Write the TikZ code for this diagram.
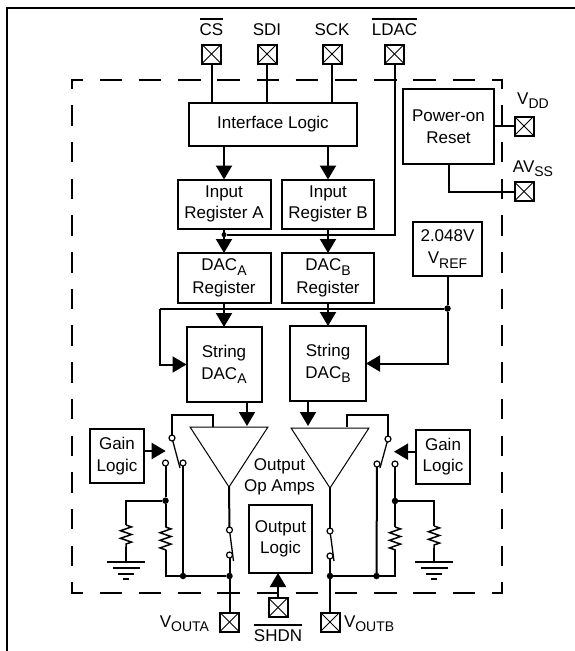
\documentclass[tikz,border=0pt]{standalone}
\usepackage{fontspec}
\usepackage{tikz}
\setmainfont{Liberation Sans}
\usetikzlibrary{shapes.geometric, arrows.meta, positioning, calc, decorations.pathmorphing}
\newcommand{\lowtext}[1]{\raisebox{-4.5pt}{\fontsize{14}{14}\selectfont #1}}
\newcommand{\pinbar}[1]{\vbox{\hrule height 1.4pt\kern 3.5pt\hbox{#1}}}
\newcommand{\groundsym}[1]{
    \draw[wire] ($(#1)+(-19,0)$) -- ($(#1)+(19,0)$);
    \draw[wire] ($(#1)+(-13.5,6)$) -- ($(#1)+(13.5,6)$);
    \draw[wire] ($(#1)+(-8,12)$) -- ($(#1)+(8,12)$);
    \draw[wire] ($(#1)+(-3,17)$) -- ($(#1)+(3,17)$);
}

\begin{document}
\begin{tikzpicture}[
    x=1pt, y=-1pt,
    every node/.style={font=\fontsize{17}{21.5}\selectfont, inner sep=0pt, outer sep=0pt},
    wire/.style={line width=2pt},
    sig/.style={line width=2pt, -{Triangle[length=14pt,width=16pt]}},
    outlineh/.style={line width=2pt, dash pattern=on 22.5pt off 16.7pt, dash phase=10.5pt},
    outlinev/.style={line width=2pt, dash pattern=on 20.5pt off 16.2pt, dash phase=10.5pt},
    block/.style 2 args={rectangle, draw, line width=2pt, align=center,
                minimum width=#1, minimum height=#2},
    padbox/.style={rectangle, draw, line width=2pt, minimum size=19pt,
                path picture={
                    \draw[line width=1pt] (path picture bounding box.north west) -- (path picture bounding box.south east);
                    \draw[line width=1pt] (path picture bounding box.north east) -- (path picture bounding box.south west);
                }},
    junction/.style={circle, fill=black, minimum size=6.5pt},
    swpole/.style={circle, draw, fill=white, line width=1.2pt, minimum size=6pt},
    blade/.style={line width=1.3pt},
    ampshape/.style={isosceles triangle, draw, line width=1pt, shape border rotate=-90,
                isosceles triangle apex angle=66, minimum height=60pt, anchor=apex},
    zigres/.style={line width=1.5pt, decorate, decoration={zigzag, segment length=7.6pt, amplitude=5.5pt}}
]
    \useasboundingbox (0,0) rectangle (575,651);

    % Frame and chip outline
    \draw[wire] (7,651) -- (7,8) -- (575,8);
    \draw[outlineh] (71,80) -- (503,80);
    \draw[outlineh] (71,593) -- (503,593);
    \draw[outlinev] (72,79) -- (72,594);
    \draw[outlinev] (502,79) -- (502,594);

    % Pads
    \node[padbox] (csPad) at (211.5,54) {};
    \node[padbox] (sdiPad) at (267,54) {};
    \node[padbox] (sckPad) at (332,54) {};
    \node[padbox] (ldacPad) at (394.5,54) {};
    \node[padbox] (vddPad) at (524,126) {};
    \node[padbox] (avssPad) at (524,191.5) {};
    \node[padbox] (voutAPad) at (229.5,622) {};
    \node[padbox] (voutBPad) at (330,622) {};
    \node[padbox] (shdnPad) at (278,607.5) {};

    \node[anchor=base] (csLabel) at (211.5,35) {\pinbar{CS}};
    \node[anchor=base] (sdiLabel) at (267,35) {SDI};
    \node[anchor=base] (sckLabel) at (332,35) {SCK};
    \node[anchor=base] (ldacLabel) at (394.5,35) {\pinbar{LDAC}};
    \node[anchor=base] (vddLabel) at (533,104) {V\lowtext{DD}};
    \node[anchor=base] (avssLabel) at (533,172) {AV\lowtext{SS}};
    \node[anchor=base east] (voutALabel) at (209,627) {V\lowtext{OUTA}};
    \node[anchor=base west] (voutBLabel) at (344,627) {V\lowtext{OUTB}};
    \node[anchor=base] (shdnLabel) at (278,641) {\pinbar{SHDN}};

    % Logic blocks
    \node[block={168pt}{43pt}] (ifLogic) at (273,124.5) {Interface Logic};
    \node[block={93pt}{49pt}] (regA) at (224,204) {Input\\Register A};
    \node[block={92pt}{49pt}, right=11.5pt of regA] (regB) {Input\\Register B};
    \node[block={93pt}{50pt}, below=24.5pt of regA] (dacRegA) {DAC\lowtext{A}\\[1.5pt]Register};
    \node[block={92pt}{50pt}, right=11.5pt of dacRegA] (dacRegB) {DAC\lowtext{B}\\[1.5pt]Register};
    \node[block={75pt}{75pt}, below=24pt of dacRegA] (strA) {String\\DAC\lowtext{A}};
    \node[block={76pt}{75pt}, below=23pt of dacRegB] (strB) {String\\DAC\lowtext{B}};
    \node[block={69pt}{54pt}] (vref) at (447.5,249) {2.048V\\[1pt]V\lowtext{REF}};
    \node[block={91pt}{75pt}] (por) at (448.5,126.5) {Power-on\\Reset};
    \node[block={54pt}{54pt}] (gainA) at (117,456) {Gain\\Logic};
    \node[block={54pt}{54pt}] (gainB) at (443,456.5) {Gain\\Logic};
    \node[block={63pt}{68pt}] (outLogic) at (280.5,539) {Output\\Logic};

    % Amplifiers
    \node[ampshape] (ampA) at (229,487) {};
    \node[ampshape] (ampB) at (330,488) {};
    \node[align=center] (ampLabel) at (279.5,477) {Output\\Op Amps};

    % Serial inputs
    \draw[wire] (csPad) -- (csPad |- ifLogic.north);
    \draw[wire] (sdiPad) -- (sdiPad |- ifLogic.north);
    \draw[wire] (sckPad) -- (sckPad |- ifLogic.north);
    \draw[sig] (regA.north |- ifLogic.south) -- (regA.north);
    \draw[sig] (regB.north |- ifLogic.south) -- (regB.north);

    % Power pins
    \draw[wire] (por.east |- vddPad) -- (vddPad);
    \draw[wire] (por.south) |- (avssPad);

    % Latch line
    \node[junction, minimum size=5pt] (latchDot) at (224,234.7) {};
    \draw[wire] (ldacPad) |- (latchDot);
    \draw[sig] (regA.south) -- (dacRegA.north);
    \draw[sig] (regB.south) -- (dacRegB.north);

    % Reference line
    \node[junction] (refDot) at (vref.south |- 0,308.5) {};
    \coordinate (refLeft) at (159.5,308.5);
    \draw[wire] (refDot) -- (refLeft);
    \draw[wire] (vref) -- (refDot);
    \draw[sig] (refLeft) |- (strA.west);
    \draw[sig] (refDot) |- (strB.east);
    \draw[sig] (dacRegA.south) -- (strA.north);
    \draw[sig] (dacRegB.south) -- (strB.north);

    % Amplifier inputs
    \coordinate (inA) at (247,426);
    \coordinate (inB) at (308,426);
    \draw[sig] (inA |- strA.south) -- (inA);
    \draw[sig] (inB |- strB.south) -- (inB);

    % Channel A gain switch
    \node[swpole] (swTopA) at (172,438) {};
    \node[swpole] (swLeftA) at (165.5,463) {};
    \node[swpole] (swRightA) at (183,463) {};
    \node[junction] (tapA) at (165.5,500.7) {};
    \node[junction] (tieA) at (183,576) {};
    \node[junction] (outA) at (229.5,576) {};
    \node[swpole] (swUpA) at (229.5,530) {};
    \node[swpole] (swDnA) at (229.5,555) {};
    \coordinate (fbA) at (213,427);
    \coordinate (fbTopA) at (213,415);
    \coordinate (bladeA) at (180,468);
    \coordinate (bladeOutA) at (233.5,561);
    \coordinate (gainTipA) at (165.7,451);
    \coordinate (rTopA) at (165.5,527);
    \coordinate (rBotA) at (165.5,550);
    \coordinate (rTopGndA) at (126,525);
    \coordinate (rBotGndA) at (126,547);
    \coordinate (gndA) at (126,562);
    \draw[wire] (swTopA.north) |- (fbTopA) -- (fbA);
    \draw[blade] (swTopA) -- (bladeA);
    \draw[wire] (swRightA) -- (tieA);
    \draw[wire] (swLeftA) -- (tapA) -- (rTopA);
    \draw[zigres] (rTopA) -- (rBotA);
    \draw[wire] (rBotA) |- (outA);
    \draw[wire] (tapA) -| (rTopGndA);
    \draw[zigres] (rTopGndA) -- (rBotGndA);
    \draw[wire] (rBotGndA) -- (gndA);
    \groundsym{gndA}
    \draw[sig] (gainA.east |- gainTipA) -- (gainTipA);
    \draw[wire] (ampA.apex) -- (swUpA);
    \draw[blade] (swUpA) -- (bladeOutA);
    \draw[wire] (swDnA) -- (voutAPad);

    % Channel B gain switch
    \node[swpole] (swTopB) at (388,439) {};
    \node[swpole] (swLeftB) at (377,464) {};
    \node[swpole] (swRightB) at (395,464) {};
    \node[junction] (tapB) at (395,501) {};
    \node[junction] (tieB) at (376.5,576) {};
    \node[junction] (outB) at (330,576) {};
    \node[swpole] (swUpB) at (330,531) {};
    \node[swpole] (swDnB) at (330,556) {};
    \coordinate (fbB) at (347,427);
    \coordinate (fbTopB) at (347,415);
    \coordinate (bladeB) at (380,468);
    \coordinate (bladeOutB) at (334,561);
    \coordinate (gainTipB) at (394,451.7);
    \coordinate (rTopB) at (395,527);
    \coordinate (rBotB) at (395,550);
    \coordinate (rTopGndB) at (434,526);
    \coordinate (rBotGndB) at (434,548);
    \coordinate (gndB) at (434,562);
    \draw[wire] (swTopB.north) |- (fbTopB) -- (fbB);
    \draw[blade] (swTopB) -- (bladeB);
    \draw[wire] (swLeftB) -- (tieB);
    \draw[wire] (swRightB) -- (tapB) -- (rTopB);
    \draw[zigres] (rTopB) -- (rBotB);
    \draw[wire] (rBotB) |- (outB);
    \draw[wire] (tapB) -| (rTopGndB);
    \draw[zigres] (rTopGndB) -- (rBotGndB);
    \draw[wire] (rBotGndB) -- (gndB);
    \groundsym{gndB}
    \draw[sig] (gainB.west |- gainTipB) -- (gainTipB);
    \draw[wire] (ampB.apex) -- (swUpB);
    \draw[blade] (swUpB) -- (bladeOutB);
    \draw[wire] (swDnB) -- (voutBPad);

    % Shutdown
    \draw[sig] (shdnPad) -- (shdnPad |- outLogic.south);
\end{tikzpicture}
\end{document}
